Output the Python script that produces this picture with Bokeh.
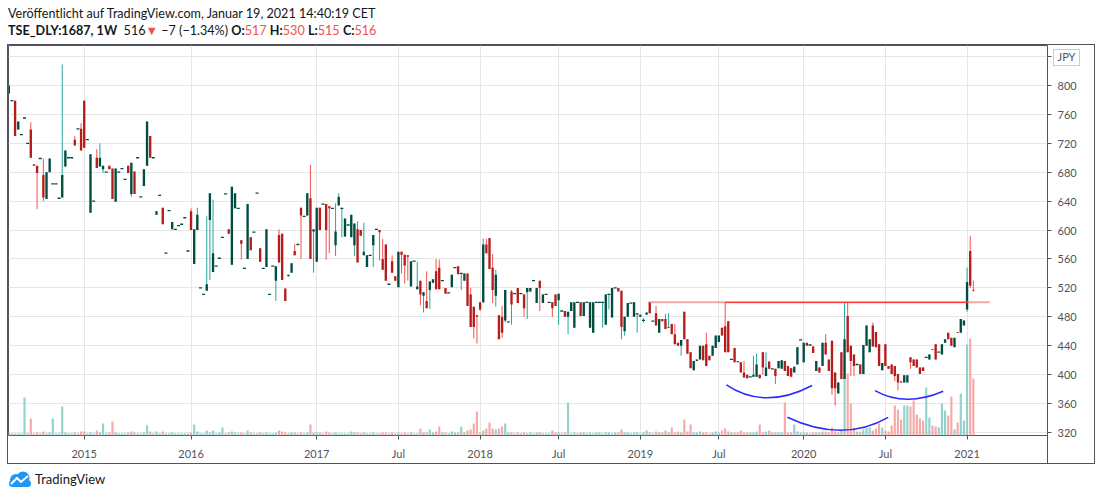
from bokeh.plotting import figure
from bokeh.models import Range1d, FixedTicker, Div, ColumnDataSource
from bokeh.layouts import column
from bokeh.embed import file_html
from bokeh.resources import INLINE

# ---------------- data (weekly bars, TSE_DLY:1687) ----------------
opens = [
789,779,779,739,732,755,720,739,691,689,
699,676,643,680,664,664,644,645,688,700,
700,725,740,740,779,725,624,640,700,688,
684,680,689,685,639,680,685,670,689,650,
681,700,646,661,689,730,700,621,648,631,
568,627,601,601,606,608,617,571,626,553,
600,520,511,516,614,542,550,561,590,650,
601,552,630,630,586,547,560,590,597,651,
575,547,549,511,550,530,593,595,519,536,
541,571,580,631,619,620,644,598,556,631,
636,636,633,630,579,634,630,591,607,590,
579,601,600,565,549,565,579,601,600,560,
580,525,557,536,521,570,566,565,522,557,
518,530,509,502,517,527,543,548,530,520,
513,521,548,550,540,530,540,511,494,482,
500,500,580,589,548,509,482,480,475,472,
515,512,520,512,511,514,515,530,499,530,
499,511,500,500,511,503,488,488,480,488,
465,500,500,481,500,465,458,500,500,500,
469,511,479,520,520,516,460,480,499,480,
484,480,475,483,500,474,485,458,477,477,
465,470,456,444,440,487,449,431,406,419,
421,440,442,426,426,437,445,465,467,474,
421,437,419,417,403,400,397,397,397,400,
431,398,418,408,408,409,408,419,412,409,
403,414,448,417,444,441,439,405,410,412,
444,421,447,403,374,431,394,481,440,428,
414,414,401,440,431,468,459,442,406,442,
412,414,412,401,391,389,389,424,421,421,
410,410,424,421,435,442,431,428,444,458,
451,438,459,458,468,490,571,517]

highs = [
800,779,779,750,732,755,720,749,691,689,
699,699,680,699,664,664,644,829,710,700,
700,730,740,748,779,725,705,640,712,720,
689,680,689,685,685,680,685,670,689,693,
681,700,646,684,750,730,700,626,648,631,
568,627,611,601,606,608,617,571,630,601,
631,520,511,619,651,642,550,561,590,650,
601,660,651,630,586,547,636,590,597,651,
575,547,601,511,550,550,601,595,519,538,
554,581,580,631,619,651,690,601,631,631,
636,636,633,630,637,651,630,616,607,621,
609,612,600,610,565,565,593,601,600,588,
580,525,565,536,570,570,566,565,557,557,
556,530,514,543,529,532,560,559,530,520,
513,538,548,550,540,540,540,520,494,482,
500,588,588,589,567,545,482,495,517,474,
517,512,520,512,511,520,520,530,520,530,
511,511,500,500,511,512,488,488,487,500,
500,500,500,500,500,500,500,500,500,500,
511,511,520,520,520,516,480,499,499,500,
484,483,478,486,500,474,495,477,477,484,
485,470,470,444,448,487,449,431,419,421,
440,440,458,426,440,454,454,465,500,474,
421,437,419,417,419,400,397,426,429,400,
431,431,418,408,408,419,420,419,412,409,
411,438,448,444,444,441,439,419,410,444,
456,421,447,403,389,431,500,500,440,428,
414,414,441,468,449,472,459,442,416,442,
412,414,412,401,391,399,399,424,421,421,
410,410,424,428,435,442,431,442,449,458,
451,451,459,477,475,548,592,530]

lows = [
789,779,730,739,732,755,720,700,689,629,
699,640,643,680,664,664,644,645,688,700,
700,717,740,710,714,725,624,640,686,688,
679,680,684,643,639,680,685,670,679,646,
650,700,646,661,689,700,700,621,648,608,
568,627,601,601,606,608,617,571,600,553,
600,520,511,516,531,542,550,561,590,650,
595,552,630,630,559,547,560,572,597,651,
556,547,549,511,550,502,555,531,502,536,
541,565,580,560,619,620,560,541,556,600,
636,559,568,630,564,634,590,591,607,590,
564,555,592,565,549,565,549,601,558,545,
530,525,541,530,521,540,526,530,522,557,
518,496,486,492,491,527,518,518,530,512,
513,521,548,539,517,530,495,466,450,443,
488,499,568,546,499,494,449,451,472,472,
469,512,499,512,480,477,515,530,499,488,
499,511,500,480,495,469,488,480,456,488,
465,500,481,481,500,465,458,500,500,465,
469,490,479,520,515,449,454,480,499,480,
458,480,472,483,485,474,468,458,474,463,
465,456,442,440,426,449,429,409,406,419,
421,420,412,420,426,437,445,454,431,431,
421,417,417,403,396,395,397,397,397,395,
400,398,408,408,387,409,408,405,398,397,
403,414,448,417,440,441,430,405,403,412,
428,405,372,357,374,394,394,431,398,398,
414,401,401,440,431,439,438,412,406,412,
408,401,391,378,389,389,389,408,412,410,
401,405,424,421,434,421,431,428,444,449,
440,438,458,458,468,487,520,515]

closes = [
800,779,730,750,732,755,720,700,689,679,
699,645,680,699,664,664,644,676,710,700,
700,717,740,710,714,725,705,640,686,700,
689,680,684,643,685,680,685,670,679,693,
650,700,646,684,750,700,700,626,648,608,
568,627,611,601,606,608,617,571,600,601,
621,520,511,525,651,568,550,561,590,650,
595,660,651,630,581,547,636,572,597,651,
556,547,601,511,550,550,555,531,502,538,
554,565,580,620,619,651,560,601,631,600,
636,600,630,630,598,646,630,616,607,621,
609,555,592,570,565,565,593,601,597,545,
530,525,541,530,570,566,551,563,557,557,
522,511,514,492,529,532,518,518,530,512,
513,538,548,539,540,540,495,466,466,480,
490,580,568,546,517,538,449,458,517,474,
497,512,499,512,492,520,520,530,520,520,
511,511,500,492,495,512,488,480,487,500,
500,500,481,500,500,500,500,500,500,500,
511,511,520,520,515,466,480,499,499,500,
484,483,475,486,485,474,468,477,474,463,
466,456,442,440,448,449,429,409,419,421,
440,420,412,420,440,454,454,454,431,431,
421,417,417,403,396,395,397,400,414,395,
410,410,408,408,398,419,420,405,398,397,
411,438,448,444,440,441,430,419,403,444,
428,405,381,381,389,394,449,431,419,412,
414,401,441,468,449,439,438,412,416,412,
408,401,398,389,389,399,399,417,412,410,
401,405,424,428,434,421,431,442,449,449,
440,451,458,477,475,528,523,516]

volumes = [
3,2,2,2,2,38,2,17,2,3,
2,4,2,3,17,2,2,29,3,2,
2,3,2,4,4,2,3,2,5,3,
12,2,3,14,3,2,2,2,3,4,
3,2,2,3,10,4,2,4,2,4,
2,2,3,2,2,2,2,2,3,11,
4,2,2,5,3,5,2,3,8,2,
3,4,3,2,3,2,5,3,2,2,
3,2,3,2,2,3,5,4,3,2,
3,3,2,3,2,3,11,3,3,3,
2,4,3,2,3,2,2,2,2,4,
3,3,2,3,2,2,3,2,2,3,
3,2,3,2,3,2,3,2,3,2,
2,7,3,3,6,3,4,9,3,3,
2,4,3,3,9,3,5,6,12,24,
3,5,7,13,7,6,7,9,12,3,
3,2,3,2,3,2,3,2,3,3,
2,2,2,5,3,3,2,3,33,2,
3,2,3,3,2,3,2,3,3,2,
3,3,2,3,3,6,3,3,2,3,
3,2,3,5,3,2,4,3,3,5,
3,8,3,4,3,16,4,11,3,3,
4,3,3,2,3,4,3,5,7,4,
3,3,3,5,3,3,3,3,4,11,
3,4,5,3,3,3,3,33,3,3,
11,4,3,3,3,2,3,3,3,4,
4,3,8,4,3,6,75,62,32,8,
4,4,6,8,8,5,7,12,8,5,
4,10,30,26,16,30,30,29,35,21,
17,15,48,18,10,9,8,32,25,20,
39,6,13,42,15,91,97,57]

tick_bars = [24, 58, 98, 124, 150, 175, 201, 226, 253, 279, 305]
tick_labels = ["2015", "2016", "2017", "Jul", "2018", "Jul", "2019", "Jul", "2020", "Jul", "2021"]
price_ticks = [320, 360, 400, 440, 480, 520, 560, 600, 640, 680, 720, 760, 800, 840]
currency = "JPY"

# drawings
level_price = 500
level_x = [203.6, 312.2]
level_strong_x = [228, 305]
arc_x0 = [228.4, 247.8, 275.7]
arc_y0 = [386, 341, 378]
arc_xm = [241.3, 264.6, 285.9]
arc_ym = [368, 323, 366]
arc_x1 = [255.7, 279.9, 297.4]
arc_y1 = [385, 341, 377]

# ---------------- styling ----------------
BODY_UP, BODY_DN = "#004d40", "#b71c1c"
WICK_UP, WICK_DN = "#26a69a", "#ef5350"
VOL_UP, VOL_DN = "#93d2cc", "#f7a9a7"
FONT = "Lato"
AXIS_COL = "#50535e"
FRAME_COL = "#50535e"
BADGE_COL = "#c9ccd4"
FRAME_W, FRAME_H, AXIS_H = 1039, 390, 28

n = len(opens)
idx = list(range(n))
is_up = [c >= o for o, c in zip(opens, closes)]

wick_src = ColumnDataSource(dict(x=idx, lo=lows, hi=highs,
                                 c=[WICK_UP if u else WICK_DN for u in is_up]))
vol_src = ColumnDataSource(dict(x=idx, v=volumes,
                                c=[VOL_UP if u else VOL_DN for u in is_up]))
body = dict(x=[], top=[], bottom=[], c=[])
doji = dict(x=[], y=[], c=[])
for i in idx:
    o, c = opens[i], closes[i]
    col = BODY_UP if is_up[i] else BODY_DN
    if o == c:
        doji["x"].append(i); doji["y"].append(c); doji["c"].append(col)
    else:
        body["x"].append(i); body["top"].append(max(o, c))
        body["bottom"].append(min(o, c)); body["c"].append(col)

p = figure(width=FRAME_W + 47, height=FRAME_H + AXIS_H,
           x_range=Range1d(-0.1, 330.6), y_range=Range1d(315.8, 855.3),
           y_axis_location="right", output_backend="svg", toolbar_location=None,
           min_border_left=0, min_border_right=47, min_border_top=0, min_border_bottom=AXIS_H,
           background_fill_color="white", border_fill_color=None,
           outline_line_color=FRAME_COL, outline_line_width=1)

# outer pane box, the short divider between time and price scales,
# and a thin box around the currency badge (drawn behind the transparent border area)
bg_layers = [
    # (color, width, height, left, top)
    (FRAME_COL, 1, AXIS_H, FRAME_W, FRAME_H),
    (BADGE_COL, 27, 1, FRAME_W + 6, 4),
    (BADGE_COL, 27, 1, FRAME_W + 6, 20),
    (BADGE_COL, 1, 17, FRAME_W + 6, 4),
    (BADGE_COL, 1, 17, FRAME_W + 32, 4),
]
p.styles = {
    "outline": "1px solid " + FRAME_COL,
    "background-color": "white",
    "background-image": ", ".join("linear-gradient(%s, %s)" % (c, c) for c, *_ in bg_layers),
    "background-size": ", ".join("%dpx %dpx" % (w, h) for _, w, h, _l, _t in bg_layers),
    "background-position": ", ".join("%dpx %dpx" % (l, t) for _, _w, _h, l, t in bg_layers),
    "background-repeat": "no-repeat",
}
p.extra_y_ranges = {"vol": Range1d(0, 390)}

# axes
p.xaxis.ticker = FixedTicker(ticks=tick_bars)
p.xaxis.major_label_overrides = {b: l for b, l in zip(tick_bars, tick_labels)}
p.yaxis.ticker = FixedTicker(ticks=price_ticks)
p.yaxis.major_label_overrides = {840: currency}
for ax in (p.xaxis, p.yaxis):
    ax.axis_line_color = None
    ax.major_tick_in = 0
    ax.major_tick_out = 4
    ax.major_tick_line_color = AXIS_COL
    ax.minor_tick_line_color = None
    ax.major_label_text_font = FONT
    ax.major_label_text_font_size = "11px"
    ax.major_label_text_color = AXIS_COL
p.xaxis.major_label_standoff = 7
p.yaxis.major_label_standoff = 6

p.xgrid.ticker = p.xaxis[0].ticker
p.ygrid.ticker = p.yaxis[0].ticker
p.grid.grid_line_color = "#e6e6e6"
p.grid.grid_line_width = 1

# volume
p.vbar(x="x", width=0.68, top="v", bottom=0, source=vol_src, y_range_name="vol",
       fill_color="c", line_color=None)

# candles
p.segment(x0="x", y0="lo", x1="x", y1="hi", source=wick_src, line_color="c", line_width=1)
p.vbar(x="x", width=0.75, top="top", bottom="bottom", source=ColumnDataSource(body),
       fill_color="c", line_color=None)
p.dash(x="x", y="y", source=ColumnDataSource(doji), size=3, line_color="c", line_width=1.3)

# resistance line
p.line(x=level_x, y=[level_price, level_price], line_color="#f26b6b", line_alpha=0.6, line_width=2)
p.line(x=level_strong_x, y=[level_price, level_price], line_color="#ff2020", line_width=1)

# blue arcs
cx = [2 * m - (a + b) / 2 for a, m, b in zip(arc_x0, arc_xm, arc_x1)]
cy = [2 * m - (a + b) / 2 for a, m, b in zip(arc_y0, arc_ym, arc_y1)]
p.quadratic(x0=arc_x0, y0=arc_y0, x1=arc_x1, y1=arc_y1, cx=cx, cy=cy,
            line_color="#2a2aff", line_width=1.5)

RED = "#f0504e"
header_html = (
    '<div style="font-family:Lato;font-size:12.6px;color:#131722;line-height:17px;'
    'position:relative;top:-3px;white-space:nowrap">'
    '<div>Veröffentlicht auf TradingView.com, Januar 19, 2021 14:40:19 CET</div>'
    '<div><b>TSE_DLY:1687, 1W</b>&nbsp; 516<span style="color:%s">▼</span> −7 (−1.34%%) '
    '<b>O:</b><span style="color:%s">517</span> <b>H:</b><span style="color:%s">530</span> '
    '<b>L:</b><span style="color:%s">515</span> <b>C:</b><span style="color:%s">516</span></div>'
    '</div>' % (RED, RED, RED, RED, RED))
header = Div(text=header_html, width=FRAME_W + 47, height=37, margin=(0, 0, 0, 0))

footer_html = (
    '<div style="display:flex;align-items:center;font-family:Lato;font-size:13px;'
    'color:#131722;padding-top:7px">'
    '<svg width="24" height="16" viewBox="0 0 24 16">'
    '<circle cx="8" cy="9" r="6" fill="#2196f3"/><circle cx="15" cy="7" r="6.5" fill="#2196f3"/>'
    '<rect x="1" y="9" width="22" height="7" rx="3.5" fill="#2196f3"/>'
    '<polyline points="3,13 9,7 13,11 20,5" fill="none" stroke="white" stroke-width="2"/>'
    '</svg><span style="margin-left:3px">TradingView</span></div>')
footer = Div(text=footer_html, width=300, height=27, margin=(0, 0, 0, 0))

layout = column(header, p, footer, spacing=0, margin=(8, 0, 0, 8))
open("out.html", "w").write(file_html(layout, INLINE))
